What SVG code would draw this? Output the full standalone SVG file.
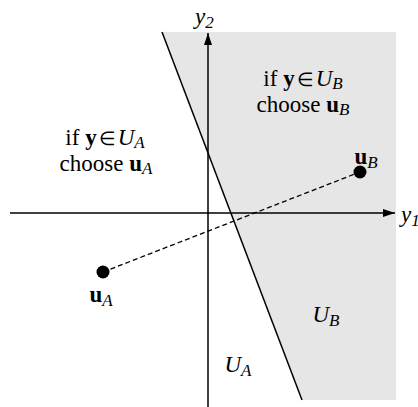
<svg xmlns="http://www.w3.org/2000/svg" width="418" height="407" viewBox="0 0 418 407">
<style>
  text { font-family: "Liberation Serif", "Times New Roman", serif; font-size: 23px; fill: #000; }
  .it { font-style: italic; }
  .bf { font-weight: bold; }
  .el { font-size: 19px; }
  .sub { font-size: 17px; font-style: italic; }
  .ax { stroke: #000; stroke-width: 1.5; fill: none; }
  .bd { stroke: #000; stroke-width: 1.5; fill: none; }
  .dash { stroke: #000; stroke-width: 1.3; stroke-dasharray: 5 3; fill: none; }
  .pt { fill: #000; }
</style>
<defs>
  <marker id="arr" viewBox="0 0 12 8" refX="12" refY="4" markerWidth="12" markerHeight="8" markerUnits="userSpaceOnUse" orient="auto">
    <path d="M0,0 L12,4 L0,8 Z" fill="#000"/>
  </marker>
</defs>
<g id="regionB">
  <polygon points="162,32 396,32 396,400 302,400" fill="#e6e6e6"/>
</g>
<g id="connectors">
  <line class="ax" x1="208" y1="407" x2="208" y2="33" marker-end="url(#arr)"/>
  <line class="ax" x1="10" y1="213" x2="395" y2="213" marker-end="url(#arr)"/>
  <line class="bd" x1="162" y1="32" x2="302" y2="400"/>
  <line class="dash" x1="103" y1="272" x2="360" y2="172"/>
</g>
<g id="axis-labels">
  <text x="195" y="24" class="it" font-size="21">y<tspan class="sub" dy="4">2</tspan></text>
  <text x="401" y="222" class="it">y<tspan class="sub" dy="4">1</tspan></text>
</g>
<g id="pointA">
  <circle class="pt" cx="103" cy="272" r="6.5"/>
  <text x="101" y="302" text-anchor="middle"><tspan class="bf">u</tspan><tspan class="sub" dy="4">A</tspan></text>
</g>
<g id="pointB">
  <circle class="pt" cx="360" cy="172" r="6.5"/>
  <text x="366" y="164" text-anchor="middle"><tspan class="bf">u</tspan><tspan class="sub" dy="4">B</tspan></text>
</g>
<g id="ruleA">
  <text x="105" y="145" text-anchor="middle">if <tspan class="bf">y</tspan><tspan class="el" dx="2">∈</tspan><tspan class="it" dx="2">U</tspan><tspan class="sub" dy="3">A</tspan></text>
  <text x="106" y="171" text-anchor="middle">choose <tspan class="bf">u</tspan><tspan class="sub" dy="3">A</tspan></text>
</g>
<g id="ruleB">
  <text x="303" y="86" text-anchor="middle">if <tspan class="bf">y</tspan><tspan class="el" dx="2">∈</tspan><tspan class="it" dx="2">U</tspan><tspan class="sub" dy="3">B</tspan></text>
  <text x="303" y="112" text-anchor="middle">choose <tspan class="bf">u</tspan><tspan class="sub" dy="3">B</tspan></text>
</g>
<g id="labelUB">
  <text x="326" y="322" text-anchor="middle"><tspan class="it">U</tspan><tspan class="sub" dy="4">B</tspan></text>
</g>
<g id="labelUA">
  <text x="238" y="372" text-anchor="middle"><tspan class="it">U</tspan><tspan class="sub" dy="4">A</tspan></text>
</g>
</svg>
